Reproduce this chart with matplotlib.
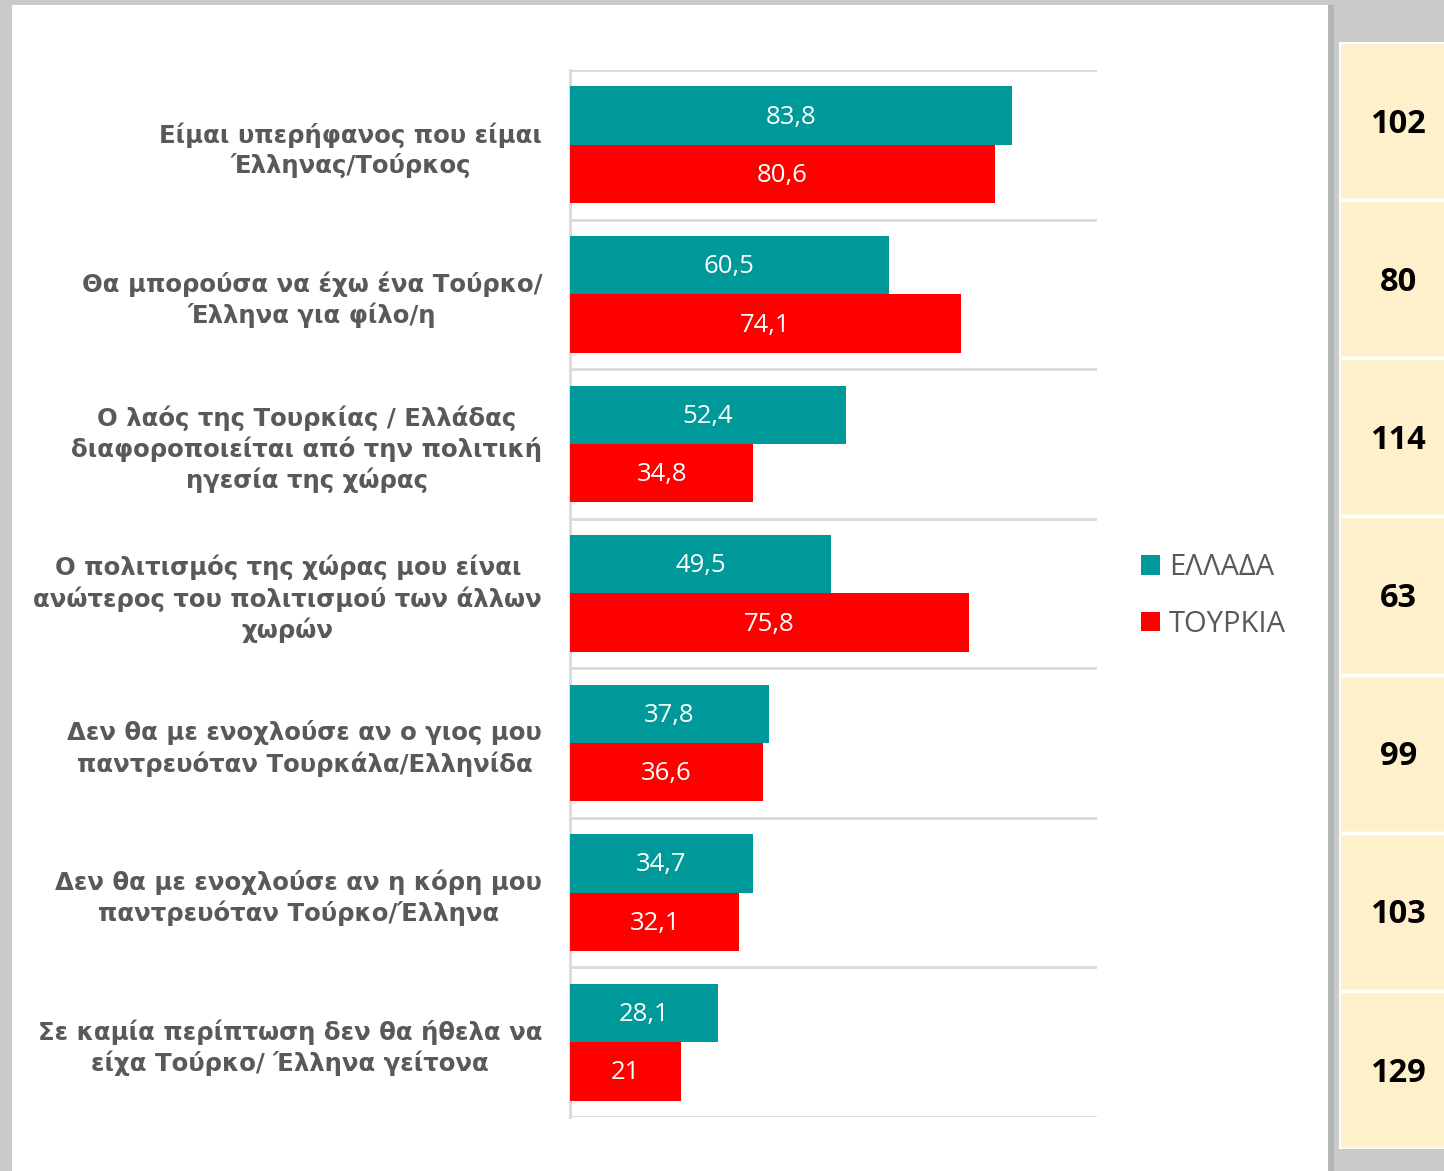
import matplotlib
matplotlib.use("Agg")
import matplotlib.pyplot as plt
import numpy as np
from matplotlib.patches import Rectangle

categories = [
    "Είμαι υπερήφανος που είμαι\nΈλληνας/Τούρκος",
    "Θα μπορούσα να έχω ένα Τούρκο/\nΈλληνα για φίλο/η",
    "Ο λαός της Τουρκίας / Ελλάδας\nδιαφοροποιείται από την πολιτική\nηγεσία της χώρας",
    "Ο πολιτισμός της χώρας μου είναι\nανώτερος του πολιτισμού των άλλων\nχωρών",
    "Δεν θα με ενοχλούσε αν ο γιος μου\nπαντρευόταν Τουρκάλα/Ελληνίδα",
    "Δεν θα με ενοχλούσε αν η κόρη μου\nπαντρευόταν Τούρκο/Έλληνα",
    "Σε καμία περίπτωση δεν θα ήθελα να\nείχα Τούρκο/ Έλληνα γείτονα",
]
greece = [83.8, 60.5, 52.4, 49.5, 37.8, 34.7, 28.1]
turkey = [80.6, 74.1, 34.8, 75.8, 36.6, 32.1, 21.0]
series_names = ["ΕΛΛΑΔΑ", "ΤΟΥΡΚΙΑ"]
side_values = [102, 80, 114, 63, 99, 103, 129]

W, H = 1444, 1171
fig = plt.figure(figsize=(W / 100, H / 100), dpi=100)
fig.patch.set_facecolor("#c9caca")

def fx(px):
    return px / W

def fy(py):
    return 1 - py / H

# white panel with shadow
fig.patches.append(Rectangle((fx(12), 0), fx(1334) - fx(12), fy(5), transform=fig.transFigure,
                             facecolor="#b4b6b6", edgecolor="none", zorder=-10))
fig.patches.append(Rectangle((fx(12), 0), fx(1328) - fx(12), fy(5), transform=fig.transFigure,
                             facecolor="white", edgecolor="none", zorder=-9))

teal = "#009999"
red = "#ff0000"
grid_c = "#d9d9d9"
txt_c = "#595959"

ax = fig.add_axes([fx(570), fy(1117), fx(1097) - fx(570), fy(70) - fy(1117)])
ax.set_facecolor("none")
y = np.arange(len(categories))
h = 0.39
b1 = ax.barh(y - h / 2, greece, height=h, color=teal, label=series_names[0], zorder=3)
b2 = ax.barh(y + h / 2, turkey, height=h, color=red, label=series_names[1], zorder=3)
ax.set_xlim(0, 100)
ax.set_ylim(len(categories) - 0.5, -0.5)

def fmt(v):
    s = f"{v:.1f}".replace(".", ",")
    if s.endswith(",0"):
        s = s[:-2]
    return s

for bars, vals in ((b1, greece), (b2, turkey)):
    for r, v in zip(bars, vals):
        ax.text(v / 2, r.get_y() + r.get_height() / 2 + 0.01, fmt(v), ha="center", va="center",
                color="white", fontsize=18.5, family="Open Sans", zorder=4)

ax.set_yticks(y)
ax.set_yticklabels(categories)
for lab in ax.get_yticklabels():
    lab.set_multialignment("center")
    lab.set_fontfamily("DejaVu Sans")
    lab.set_fontweight("bold")
    lab.set_fontsize(17.6)
    lab.set_color(txt_c)
    lab.set_linespacing(1.28)
ax.tick_params(axis="y", length=0, pad=20)
ax.set_xticks([])
ax.set_yticks(np.arange(-0.5, len(categories), 1), minor=True)
ax.tick_params(axis="y", which="minor", length=0)
ax.grid(which="minor", axis="y", color=grid_c, linewidth=2, zorder=1)
for s in ("top", "right", "bottom"):
    ax.spines[s].set_visible(False)
ax.spines["left"].set_color(grid_c)
ax.spines["left"].set_linewidth(2)

leg = ax.legend(loc="center left", bbox_to_anchor=(fx(1115), fy(596)), bbox_transform=fig.transFigure,
                frameon=False, handlelength=0.65, handleheight=0.65, handletextpad=0.3,
                labelspacing=0.95, prop={"family": "Open Sans", "size": 21})
for t in leg.get_texts():
    t.set_color(txt_c)

# side column of yellow cells
ax2 = fig.add_axes([fx(1339), fy(1149), fx(1446) - fx(1339), fy(42) - fy(1149)])
ax2.set_facecolor("none")
n = len(side_values)
ax2.barh(np.arange(n), [1] * n, height=1, left=0, color="#fff0cc", edgecolor="white", linewidth=2.5)
for i, v in enumerate(side_values):
    ax2.text(0.555, i + 0.02, str(v), ha="center", va="center", fontsize=23.5, fontweight="bold",
             family="Open Sans", color="black")
ax2.set_xlim(0, 1)
ax2.set_ylim(n - 0.5, -0.5)
ax2.axis("off")

fig.savefig("out.png", dpi=100, facecolor=fig.get_facecolor())
